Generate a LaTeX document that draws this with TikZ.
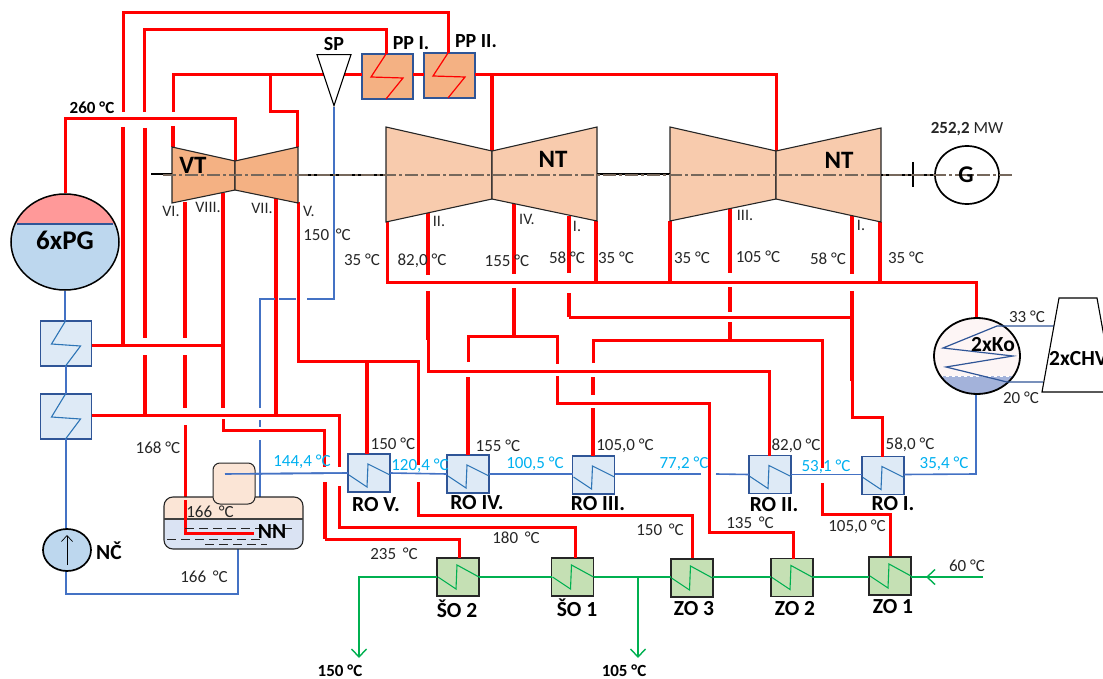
\documentclass[tikz,border=0pt]{standalone}
\usepackage{fontspec}
\setmainfont{Carlito}
\usetikzlibrary{calc,arrows.meta,positioning,shapes.geometric}
\definecolor{steamred}{RGB}{255,0,0}
\definecolor{waterblue}{RGB}{68,114,196}
\definecolor{edgeblue}{RGB}{47,85,151}
\definecolor{coilblue}{RGB}{46,117,182}
\definecolor{tempcyan}{RGB}{0,176,240}
\definecolor{hotgreen}{RGB}{0,176,80}
\definecolor{hpfill}{RGB}{244,177,131}
\definecolor{lpfill}{RGB}{248,203,173}
\definecolor{hxfill}{RGB}{222,234,246}
\definecolor{zofill}{RGB}{197,224,180}
\definecolor{axisgray}{RGB}{118,104,92}
\definecolor{drumred}{RGB}{255,153,153}
\definecolor{drumblue}{RGB}{189,215,238}
\definecolor{tankorange}{RGB}{251,229,214}
\definecolor{tankblue}{RGB}{218,227,243}
\definecolor{condblue}{RGB}{163,178,218}
\definecolor{condpink}{RGB}{253,245,245}
\tikzset{
  steam/.style={steamred, line width=3pt},
  steamb/.style={steamred, line width=4pt},
  water/.style={waterblue, line width=1.6pt},
  hot/.style={hotgreen, line width=1.6pt},
  outflow/.style={hotgreen, line width=1.4pt, -{Straight Barb[length=8pt,width=15pt,line width=1.4pt]}},
  shaft/.style={black, line width=1.5pt},
  axisline/.style={axisgray, line width=1.2pt, dash pattern=on 13pt off 3pt on 3pt off 3pt},
  casing/.style={draw=black!85, line width=1.1pt},
  hxbox/.style={draw=edgeblue, line width=1.2pt, fill=hxfill, minimum width=42pt, minimum height=38pt, inner sep=0pt, outer sep=0pt},
  fwbox/.style={hxbox, minimum width=51pt, minimum height=45pt},
  ppbox/.style={hxbox, fill=hpfill, minimum width=51pt, minimum height=45pt},
  zobox/.style={hxbox, draw=black!85, fill=zofill},
  zoboxb/.style={zobox, line width=2pt},
  temp/.style={font=\fontsize{17}{17}\selectfont, inner sep=0pt, text=black!85},
  tempc/.style={temp, text=tempcyan},
  tempb/.style={temp, text=black, font=\fontsize{17}{17}\selectfont\bfseries},
  tag/.style={temp, font=\fontsize{16}{16}\selectfont},
  unitname/.style={font=\fontsize{21.5}{21.5}\selectfont\bfseries, inner sep=0pt},
  unitnamel/.style={font=\fontsize{25}{25}\selectfont\bfseries, inner sep=0pt},
  unitnames/.style={font=\fontsize{20}{20}\selectfont\bfseries, inner sep=0pt},
}
\begin{document}
\begin{tikzpicture}[x=1pt, y=-1pt]
\clip (0,0) rectangle (1103,679);

% Vessels and heat exchangers
\begin{scope}
  \clip (65,242) ellipse [x radius=54, y radius=48];
  \fill[drumred] (10,190) rectangle (120,224);
  \fill[drumblue] (10,224) rectangle (120,295);
\end{scope}
\draw[edgeblue, line width=1.2pt] (17,224) -- (113,224);
\node[ellipse, draw, line width=1.5pt, minimum width=108pt, minimum height=96pt, inner sep=0pt] (pg) at (65,242) {};
\node[font=\fontsize{27}{27}\selectfont\bfseries, inner sep=0pt] (pglabel) at (65,240) {6xPG};

\foreach \n/\x/\y in {he1/66/343.5, he2/66/416.5}
  \node[fwbox] (\n) at (\x,\y) {};
\node[ppbox] (pp1) at (387.5,76.5) {};
\node[ppbox] (pp2) at (449.5,75.5) {};
\foreach \n/\x/\y in {ro5/369/473, ro4/468/474, ro3/593.5/475, ro2/770/474.5, ro1/883/475.5}
  \node[hxbox] (\n) at (\x,\y) {};
\foreach \n/\x/\y in {so2/458/577, so1/572.5/577, zo2/792/577.5}
  \node[zobox] (\n) at (\x,\y) {};
\foreach \n/\x/\y in {zo3/691.5/578, zo1/890/576}
  \node[zoboxb] (\n) at (\x,\y) {};

% Steam lines, upper part
\draw[steam] (123,112) -- (123,13) -- (448,13) -- (448,53);
\draw[steam] (144,112) -- (144,30) -- (386,30) -- (386,54);
\draw[steam] (173,112) -- (173,75) -- (pp1.west |- 0,75);
\draw[steam] (pp1.east |- 0,75) -- (pp2.west |- 0,75);
\draw[steam] (pp2.east |- 0,75) -- (776,75) -- (776,151);
\draw[steam] (270,75) -- (270,112) -- (297,112) -- (297,147);
\draw[steamb] (492,75) -- (492,151);
\draw[steam] (pg.north) |- (235,119) -- (235,161);

% Extractions from the high pressure part
\draw[steamb] (123,127) -- (123,345);
\draw[steamb] (145,128) -- (145,338);
\draw[steamb] (145,355) -- (145,415);
\draw[steamb] (173,126) -- (173,147);
\draw[steamb] (185,202) -- (185,338);
\draw[steamb] (185,355) -- (185,408);
\draw[steam] (185,425) -- (185,533) -- (254,533);
\draw[steamb] (223,193) -- (223,408);
\draw[steam] (223,419) -- (223,430) -- (324,430) -- (324,467);
\draw[steamb] (325,482) -- (325,539);
\draw[steam] (325,539) -- (459,539) -- (459,558);
\draw[steamb] (276,198) -- (276,415);
\draw[steam] (298,202) -- (298,361) -- (418,361) -- (418,465);
\draw[steam] (418,482) -- (418,515) -- (692,515) -- (692,558);
\draw[steamb] (367,363) -- (367,454);
\draw[steam] (he1.east |- 0,345) -- (223,345);
\draw[steam] (he2.east |- 0,415) -- (339,415) -- (339,467);
\draw[steam] (339,486) -- (339,527) -- (575,527) -- (575,558);

% Exhaust and low pressure extractions
\draw[steam] (387,222) -- (387,282) -- (976,282) -- (976,317);
\draw[steamb] (596,221) -- (596,282);
\draw[steamb] (670,221) -- (670,282);
\draw[steamb] (880,222) -- (880,282);
\draw[steamb] (428,213) -- (428,275);
\draw[steamb] (428,291) -- (428,340);
\draw[steam] (428,340) -- (428,371) -- (769,371) -- (769,456);
\draw[steamb] (514,204) -- (514,274);
\draw[steamb] (514,288) -- (514,336);
\draw[steam] (468,362) -- (468,336) -- (557,336) -- (557,364);
\draw[steamb] (468,377) -- (468,455);
\draw[steam] (557,376) -- (557,403) -- (709,403) -- (709,532) -- (793,532) -- (793,559);
\draw[steamb] (569,216) -- (569,273);
\draw[steamb] (569,293) -- (569,317);
\draw[steam] (569,317) -- (852,317);
\draw[steamb] (852,216) -- (852,274);
\draw[steamb] (852,291) -- (852,381);
\draw[steam] (852,381) -- (852,417) -- (882,417) -- (882,457);
\draw[steamb] (730,208) -- (730,273);
\draw[steamb] (730,287) -- (730,312);
\draw[steamb] (730,322) -- (730,339);
\draw[steam] (593,363) -- (593,340) -- (822,340) -- (822,468);
\draw[steam] (822,483) -- (822,514) -- (890,514) -- (890,556);
\draw[steamb] (593,377) -- (593,395);
\draw[steamb] (593,408) -- (593,456);

% Feed water and condensate
\draw[water] (pg.south) -- (he1.north -| pg.south);
\draw[water] (he1.south) -- (he2.north);
\draw[water] (he2.south) -- (66,529);
\draw[water] (334,107) -- (334,299) -- (307,299);
\draw[water] (296,299) -- (279,299);
\draw[water] (275,299) -- (260,299) -- (260,408);
\draw[water] (260,420) -- (260,427);
\draw[water] (260,440) -- (260,497);
\draw[water] (238,549) -- (238,594) -- (66,594) -- (66,571);
\draw[water] (225,474) -- (ro5.west);
\draw[water] (ro5.east) -- (ro4.west);
\draw[water] (ro4.east) -- (ro3.west |- ro4.east);
\draw[water] (ro3.east |- ro4.east) -- (701,474);
\draw[water] (716,474) -- (ro2.west);
\draw[water] (ro2.east) -- (ro1.west |- ro2.east);
\draw[water] (ro1.east |- ro2.east) -- (976,474) -- (976,394);

% Heating water
\draw[outflow] (so2.west) -- (359,577) -- (359,658);
\draw[hot] (so2.east) -- (so1.west);
\draw[hot] (so1.east) -- (zo3.west |- so1.east);
\draw[outflow] (638,577) -- (638,658);
\draw[hot] (zo3.east |- so1.east) -- (zo2.west |- so1.east);
\draw[hot] (zo2.east |- so1.east) -- (zo1.west |- so1.east);
\draw[hot] (zo1.east |- so1.east) -- (983,577);
\draw[outflow] (983,577) -- (926,577);

% Coils
\foreach \b in {he1,he2}
  \draw[coilblue, line width=1.1pt, shift={(\b.north west)}] (25,0) -- (11,23) -- (40,25) -- (25,45);
\foreach \b in {ro5,ro4,ro3,ro2,ro1}
  \draw[coilblue, line width=1.1pt, shift={(\b.north west)}] (1,21) -- (19,33) -- (20,10) -- (42,21);
\foreach \b in {so2,so1,zo3,zo2,zo1}
  \draw[hotgreen, line width=1.1pt, shift={(\b.north west)}] (1,19) -- (19,31) -- (20,7) -- (42,19);
\foreach \b in {pp1,pp2}
  \draw[steamred, line width=1.2pt, shift={(\b.north west)}] (24,0) -- (9,23) -- (41,24) -- (24,45);

% Turbines
\draw[casing, fill=hpfill] (172,147) -- (235,161) -- (235,190) -- (172,203) -- cycle;
\draw[casing, fill=hpfill] (235,161) -- (298,147) -- (298,203) -- (235,190) -- cycle;
\draw[casing, fill=lpfill] (386,127) -- (492,151) -- (492,199) -- (386,222) -- cycle;
\draw[casing, fill=lpfill] (492,151) -- (597,127) -- (597,221) -- (492,199) -- cycle;
\draw[casing, fill=lpfill] (670,127) -- (776,151) -- (776,199) -- (670,221) -- cycle;
\draw[casing, fill=lpfill] (776,151) -- (881,128) -- (881,222) -- (776,199) -- cycle;

% Shaft
\node[ellipse, draw, line width=1.7pt, fill=white, minimum width=64pt, minimum height=58pt, inner sep=0pt] (gen) at (967,175) {};
\draw[shaft] (151,174) -- (172,174);
\draw[shaft] (298,175) -- (386,175);
\draw[shaft] (597,174) -- (670,174);
\draw[shaft] (881,175) -- (gen.west);
\draw[black, line width=1.1pt] (913,162) -- (913,187);
\draw[axisline] (163,175) -- (1013,175);
\node[font=\fontsize{24}{24}\selectfont\bfseries, inner sep=0pt] (genlabel) at (966,175) {G};

% Regulating valve
\node[isosceles triangle, shape border rotate=-90, isosceles triangle stretches, draw, line width=1.1pt, fill=white, minimum width=34pt, minimum height=51pt, inner sep=0pt, anchor=apex] (sp) at (334,107) {};

% Feed pump
\node[ellipse, draw, line width=1.7pt, fill=drumblue, minimum width=48pt, minimum height=42pt, inner sep=0pt] (nc) at (67,550) {};
\draw[black, line width=.7pt, -{Straight Barb[length=6pt,width=11pt]}] (67,565) -- (67,535);

% Feed water tank
\begin{scope}
  \clip[rounded corners=9pt] (164,497) rectangle (303,549);
  \fill[tankorange] (164,497) rectangle (303,519);
  \fill[tankblue] (164,519) rectangle (303,549);
\end{scope}
\draw[black!85, line width=1.1pt, rounded corners=9pt] (164,497) rectangle (303,549);
\draw[black!75, line width=1.3pt] (164,519) -- (303,519);
\draw[black!85, line width=1pt, rounded corners=7pt, fill=tankorange] (213,463) rectangle (255,504);
\draw[water] (225,474) -- (ro5.west);
\draw[steam] (185,500) -- (185,533) -- (254,533);
\draw[black!85, line width=.9pt, dash pattern=on 9pt off 5pt] (185,528) -- (296,528);
\draw[black!85, line width=.9pt, dash pattern=on 9pt off 5pt] (167,539) -- (262,539);
\draw[black!85, line width=.9pt, dash pattern=on 9pt off 5pt] (205,544) -- (267,544);
\node[unitname] (nnlabel) at (272,532) {NN};

% Condenser and cooling tower
\begin{scope}
  \clip (977,356) ellipse [x radius=43, y radius=38];
  \fill[condpink] (930,315) rectangle (1025,376);
  \fill[condblue] (930,376) rectangle (1025,398);
\end{scope}
\draw[white, line width=1pt, dashed] (940,376) -- (1012,376);
\node[ellipse, draw, line width=1.8pt, minimum width=86pt, minimum height=76pt, inner sep=0pt] (ko) at (977,356) {};
\draw[edgeblue, line width=1.2pt] (1054,326) -- (997,326) -- (943,348) -- (1013,356) -- (946,367) -- (1007,382) -- (1043,382);
\node[unitname] (kolabel) at (993,345) {2xKo};
\draw[black, line width=1.1pt, fill=white] (1042,392) -- (1059,298) -- (1097,298) -- (1114,392) -- cycle;
\node[unitname, anchor=west] (chvlabel) at (1049,359) {2xCHV};

% Component names
\node[unitnamel] (vtlabel) at (193,165) {VT};
\node[unitnamel] (nt1label) at (553,159) {NT};
\node[unitnamel] (nt2label) at (839,160) {NT};
\node[unitnames] (splabel) at (334,44) {SP};
\node[unitnames] (pp1label) at (411,43) {PP I.};
\node[unitnames] (pp2label) at (476,41) {PP II.};
\node[unitname] (nclabel) at (109,551) {NČ};
\node[unitname] (ro5label) at (376,505) {RO V.};
\node[unitname] (ro4label) at (477,503) {RO IV.};
\node[unitname] (ro3label) at (598,504) {RO III.};
\node[unitname] (ro2label) at (774,505) {RO II.};
\node[unitname] (ro1label) at (893,504) {RO I.};
\node[unitname] (so2label) at (457,609) {ŠO 2};
\node[unitname] (so1label) at (577,608) {ŠO 1};
\node[unitname] (zo3label) at (694,609) {ZO 3};
\node[unitname] (zo2label) at (795,609) {ZO 2};
\node[unitname] (zo1label) at (893,607) {ZO 1};

% Extraction numbers
\node[tag] (ex6) at (171,211) {VI.};
\node[tag] (ex8) at (208,207) {VIII.};
\node[tag] (ex7) at (262,208) {VII.};
\node[tag] (ex5) at (309,211) {V.};
\node[tag] (ex2) at (439,221) {II.};
\node[tag] (ex4) at (527,219) {IV.};
\node[tag] (ex1a) at (577,226) {I.};
\node[tag] (ex3) at (745,215) {III.};
\node[tag] (ex1b) at (861,225) {I.};

% Temperatures
\node[tempb] (t260) at (92,108) {260 °C};
\node[temp] (t150a) at (327,235) {150 \,°C};
\node[temp] (t35a) at (362,260) {35 °C};
\node[temp] (t82a) at (422,261) {82,0 °C};
\node[temp] (t155a) at (507,261) {155 °C};
\node[temp] (t58a) at (567,258) {58 °C};
\node[temp] (t35b) at (616,258) {35 °C};
\node[temp] (t35c) at (692,258) {35 °C};
\node[temp] (t105a) at (758,257) {105 °C};
\node[temp] (t58b) at (828,259) {58 °C};
\node[temp] (t35d) at (906,258) {35 °C};
\node[temp] (t33) at (1027,317) {33 °C};
\node[temp] (t20) at (1021,398) {20 °C};
\node[temp] (t168) at (158,448) {168 °C};
\node[temp] (t166a) at (210,512) {166 \,°C};
\node[temp] (t166b) at (204,577) {166 \,°C};
\node[temp] (t150b) at (393,444) {150 °C};
\node[temp] (t155b) at (498,446) {155 °C};
\node[temp] (t105b) at (625,446) {105,0 °C};
\node[temp] (t82b) at (796,446) {82,0 °C};
\node[temp] (t58c) at (910,445) {58,0 °C};
\node[temp] (t235) at (394,554) {235 \,°C};
\node[temp] (t180) at (516,538) {180 \,°C};
\node[temp] (t150c) at (660,530) {150 \,°C};
\node[temp] (t135) at (750,523) {135 \,°C};
\node[temp] (t105c) at (857,527) {105,0 °C};
\node[temp] (t60) at (967,566) {60 °C};
\node[tempc] (w144) at (302,462) {144,4 °C};
\node[tempc] (w120) at (420,466) {120,4 °C};
\node[tempc] (w100) at (535,464) {100,5 °C};
\node[tempc] (w77) at (684,464) {77,2 °C};
\node[tempc] (w53) at (826,467) {53,1 °C};
\node[tempc] (w35) at (944,464) {35,4 °C};
\node[tempb] (h150) at (340,671) {150 °C};
\node[tempb] (h105) at (624,671) {105 °C};
\node[temp] (power) at (967,129) {\textbf{252,2} MW};
\end{tikzpicture}
\end{document}
